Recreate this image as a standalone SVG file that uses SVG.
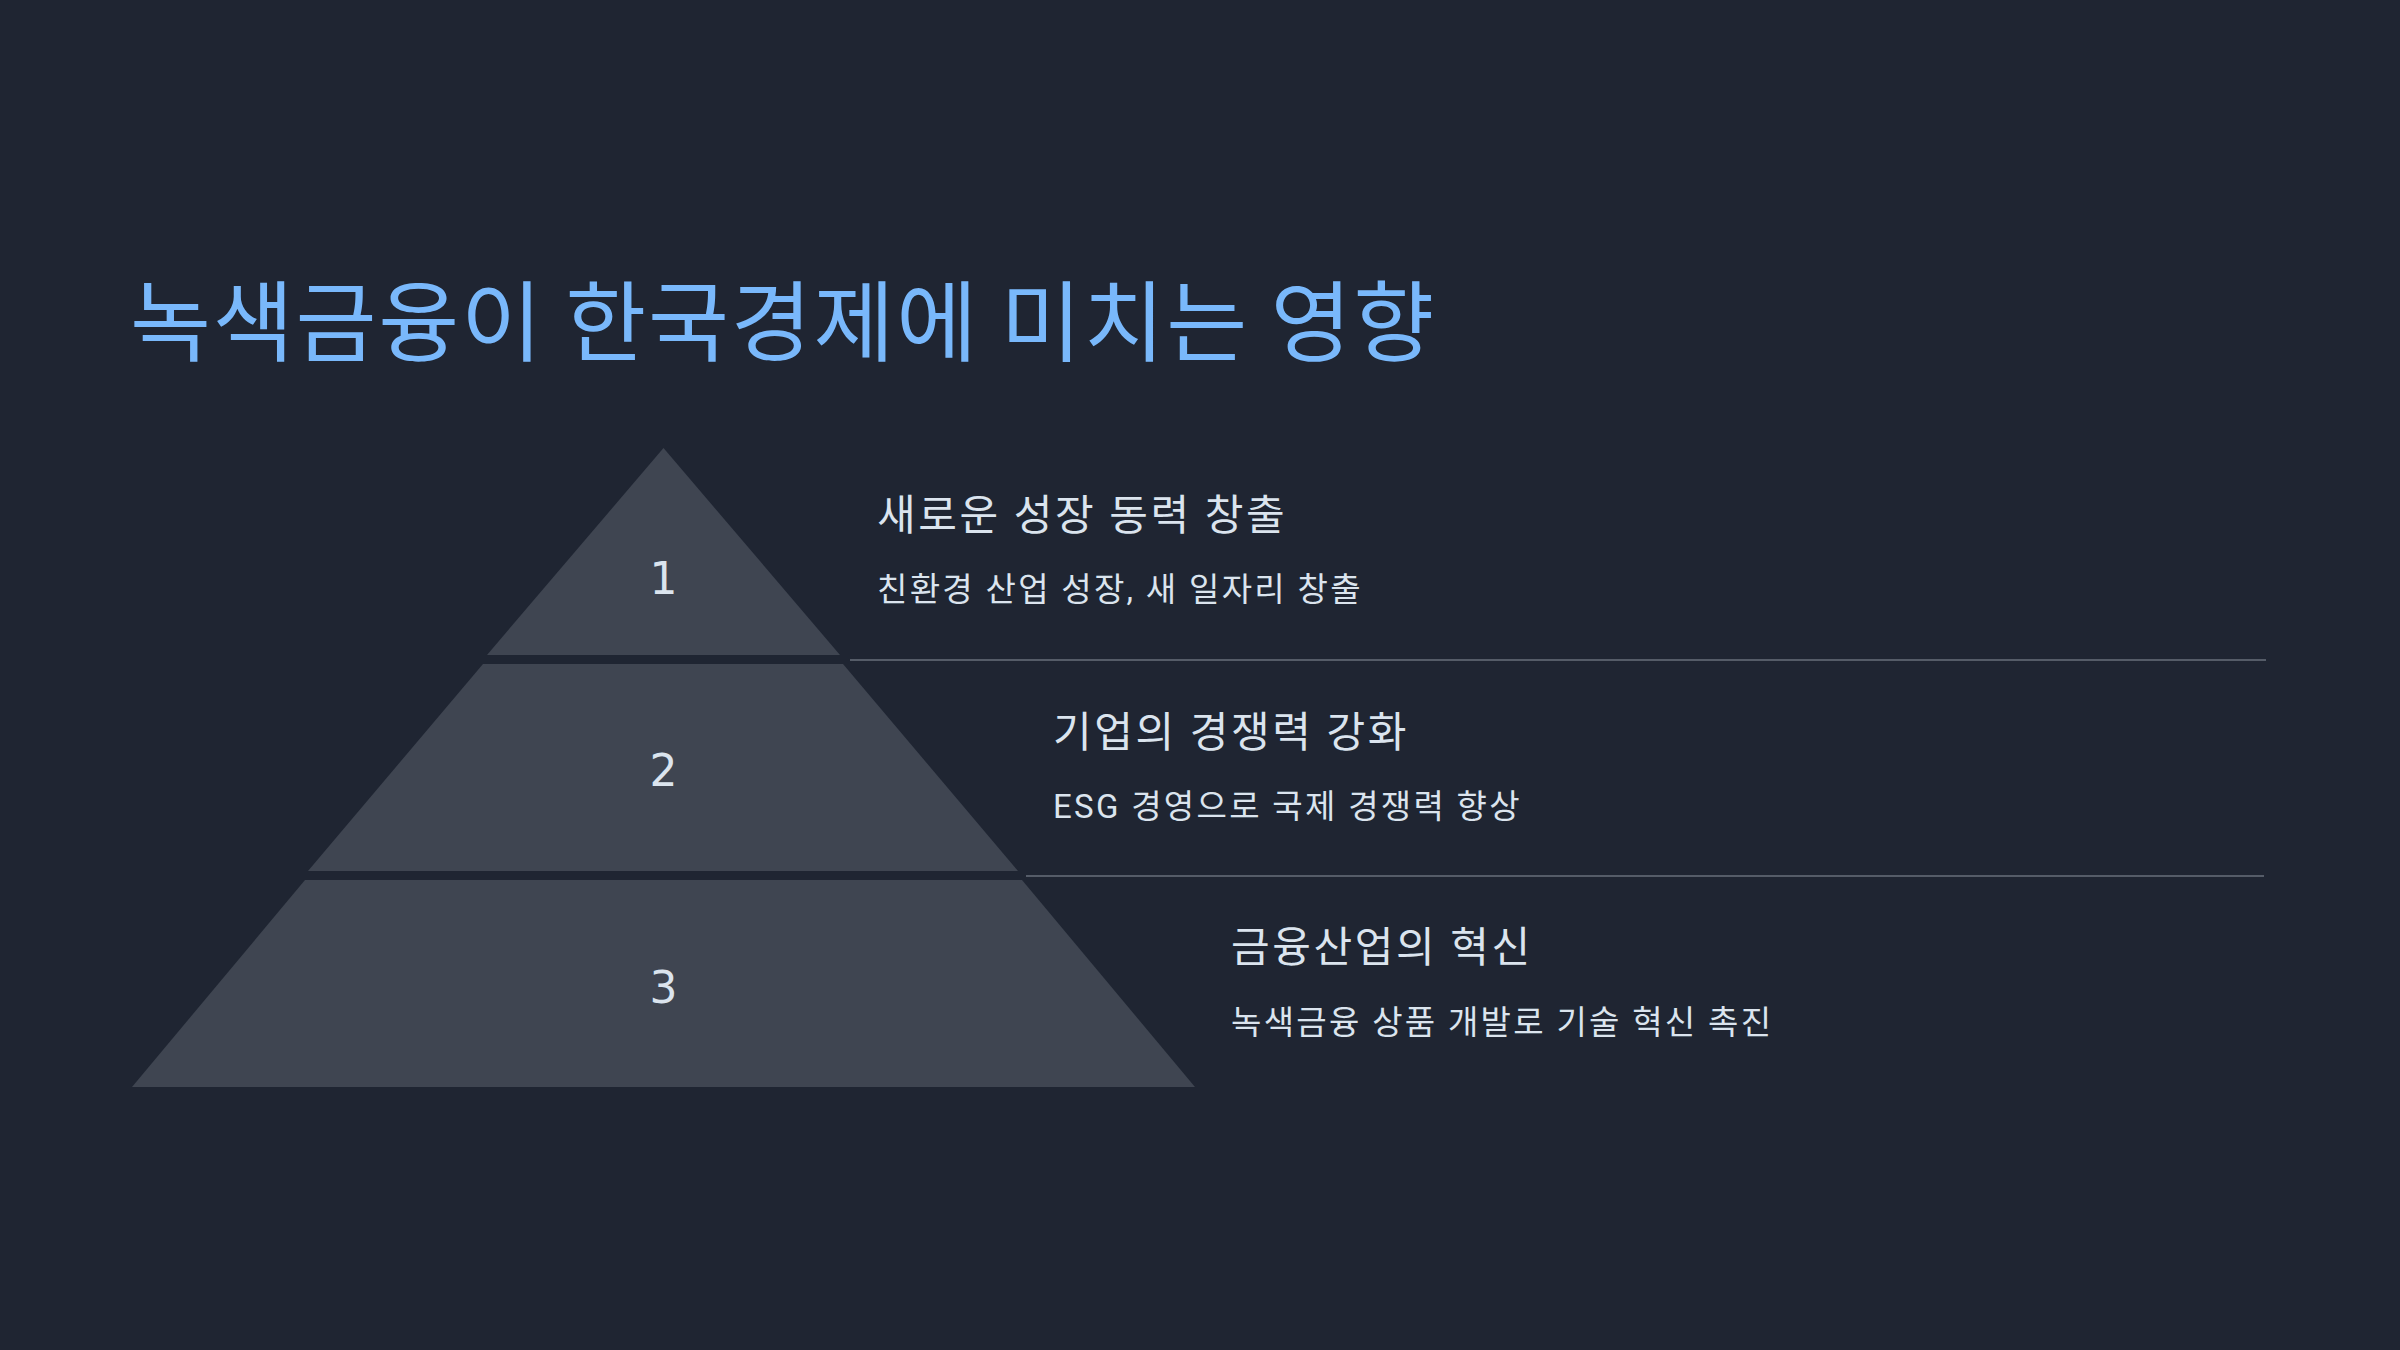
<svg xmlns="http://www.w3.org/2000/svg" width="2400" height="1350" viewBox="0 0 2400 1350">
<style>
.tier{fill:#3f4551}
.num{font-family:"DejaVu Sans",sans-serif;font-size:44px;fill:#dbe4ee;text-anchor:middle}
.head{font-family:"Roboto","Noto Sans CJK KR",sans-serif;font-size:42px;fill:#dbe4ee;letter-spacing:2.6px}
.sub{font-family:"Roboto","Noto Sans CJK KR",sans-serif;font-size:33px;fill:#dbe4ee;letter-spacing:2.3px}
.title{font-family:"Noto Sans CJK KR","Noto Sans",sans-serif;font-size:88px;fill:#79b8fb;letter-spacing:1.8px}
.div{stroke:#555c68;stroke-width:2}
</style>
<rect width="2400" height="1350" fill="#1f2532"/>
<text class="title" x="130" y="354">녹색금융이 한국경제에 미치는 영향</text>
<g id="tier1">
<polygon class="tier" points="663.5,448 840,655 487,655"/>
<text class="num" x="663.5" y="594">1</text>
</g>
<g id="tier2">
<polygon class="tier" points="483,664 843,664 1018,871 308,871"/>
<text class="num" x="663.5" y="786">2</text>
</g>
<g id="tier3">
<polygon class="tier" points="305,880 1022,880 1195,1087 132,1087"/>
<text class="num" x="663.5" y="1003">3</text>
</g>
<g id="label1">
<text class="head" x="877" y="530">새로운 성장 동력 창출</text>
<text class="sub" x="877" y="601">친환경 산업 성장, 새 일자리 창출</text>
</g>
<g id="label2">
<text class="head" x="1053" y="747">기업의 경쟁력 강화</text>
<text class="sub" x="1053" y="818">ESG 경영으로 국제 경쟁력 향상</text>
</g>
<g id="label3">
<text class="head" x="1231" y="962">금융산업의 혁신</text>
<text class="sub" x="1231" y="1034">녹색금융 상품 개발로 기술 혁신 촉진</text>
</g>
<g id="connectors">
<line class="div" x1="850" y1="660" x2="2266" y2="660"/>
<line class="div" x1="1026" y1="876" x2="2264" y2="876"/>
</g>
</svg>
